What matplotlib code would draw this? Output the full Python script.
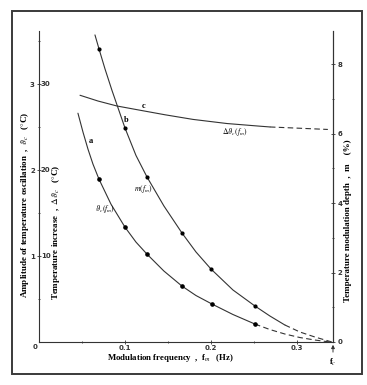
import matplotlib
matplotlib.use("Agg")
import matplotlib.pyplot as plt
from matplotlib.patches import Rectangle
from matplotlib.font_manager import FontProperties

plt.rcParams["mathtext.fontset"] = "stix"
plt.rcParams["font.family"] = ["Liberation Serif", "DejaVu Serif"]

# curve a : amplitude of temperature oscillation (left axis, degC)
a_f = [0.0453, 0.0512, 0.0570, 0.0628, 0.0698, 0.0837, 0.1000, 0.1128, 0.1256,
       0.1453, 0.1663, 0.1826, 0.2012, 0.2256, 0.2512]
a_v = [2.663, 2.442, 2.244, 2.070, 1.895, 1.605, 1.337, 1.163, 1.023,
       0.826, 0.651, 0.541, 0.442, 0.320, 0.209]
a_dash_f = [0.2512, 0.2686, 0.2860, 0.3035, 0.3209, 0.3384]
a_dash_v = [0.209, 0.145, 0.093, 0.052, 0.023, 0.0]
a_dot_f = [0.0698, 0.100, 0.1256, 0.1663, 0.2012, 0.2512]
a_dot_v = [1.895, 1.337, 1.023, 0.651, 0.442, 0.209]

# curve b : modulation depth m (right axis, %)
b_f = [0.0651, 0.0698, 0.0767, 0.0849, 0.1000, 0.1128, 0.1256, 0.1453, 0.1663,
       0.1826, 0.2000, 0.2256, 0.2512, 0.2686, 0.2860]
b_v = [8.847, 8.444, 7.873, 7.248, 6.167, 5.375, 4.755, 3.919, 3.141,
       2.594, 2.104, 1.499, 1.037, 0.749, 0.490]
b_dash_f = [0.2860, 0.3035, 0.3209, 0.3407]
b_dash_v = [0.490, 0.288, 0.144, 0.0]
b_dot_f = [0.0698, 0.1000, 0.1256, 0.1663, 0.2000, 0.2512]
b_dot_v = [8.444, 6.167, 4.755, 3.141, 2.104, 1.037]

# curve c : temperature increase (left axis, x10 scale)
c_f = [0.0477, 0.0686, 0.0907, 0.1174, 0.1465, 0.1791, 0.2186, 0.2570, 0.2686]
c_v = [28.72, 28.05, 27.47, 26.98, 26.45, 25.91, 25.43, 25.12, 25.03]
c_dash_f = [0.2686, 0.3035, 0.3360]
c_dash_v = [25.03, 24.88, 24.74]

x_ticks = [0.1, 0.2, 0.3]
left_ticks = [1, 2, 3]
left_ticks2 = ["10", "20", "30"]
right_ticks = [0, 2, 4, 6, 8]

W, H = 367, 385
fig = plt.figure(figsize=(W / 100, H / 100), dpi=100)
fig.patch.set_facecolor("white")
fig.patches.append(Rectangle((12 / W, 1 - 374 / H), 350 / W, 363 / H, transform=fig.transFigure,
                             fill=False, ec="#3a3a3a", lw=1.4))

ax = fig.add_axes([39 / W, 1 - 342 / H, 294 / W, 311 / H])
ax.set_xlim(0, 0.342)
ax.set_ylim(0, 3.62)
ax2 = ax.twinx()
ax2.set_ylim(0, 8.96)
ax3 = ax.twinx()
ax3.set_ylim(0, 36.2)
ax3.axis("off")

lc = "#333333"
ax.spines["top"].set_visible(False)
ax2.spines["top"].set_visible(False)
ax2.spines["left"].set_visible(False)
ax2.spines["bottom"].set_visible(False)
for sp in ax.spines.values():
    sp.set_linewidth(0.8)
    sp.set_color(lc)
ax2.spines["right"].set_linewidth(0.8)
ax2.spines["right"].set_color(lc)

ax.set_xticks(x_ticks)
ax.set_xticklabels(["0.1", "0.2", "0.3"])
ax.set_xticks([0.05, 0.15, 0.25], minor=True)
ax.set_yticks(left_ticks)
ax.set_yticklabels([str(v) for v in left_ticks])
ax.set_yticks([0.5, 1.5, 2.5, 3.5], minor=True)
ax2.set_yticks(right_ticks)
ax2.set_yticklabels([str(v) for v in right_ticks])
ax2.set_yticks([1, 3, 5, 7], minor=True)
tf = FontProperties(family="DejaVu Sans", size=5, weight="bold")
for axx in (ax, ax2):
    axx.tick_params(which="major", direction="inout", length=3, width=0.6, pad=1.5, colors=lc)
    axx.tick_params(which="minor", direction="inout", length=2, width=0.6, colors=lc)
    for lab in axx.get_xticklabels() + axx.get_yticklabels():
        lab.set_fontproperties(tf)
ax.tick_params(axis="x", which="major", pad=0.3)

for v, t in zip(left_ticks, left_ticks2):
    ax3.text(0.002, v * 10, t, ha="left", va="center", fontproperties=tf, color=lc)
fig.text(35 / W, 1 - 347 / H, "0", ha="center", va="center", fontproperties=tf, color=lc)

# curves
kw = dict(color=lc, lw=0.8, solid_joinstyle="round", solid_capstyle="round")
ax.plot(a_f, a_v, **kw)
ax.plot(a_dash_f, a_dash_v, color=lc, lw=0.8, ls=(0, (5, 3)))
ax.plot(a_dot_f, a_dot_v, "o", color="black", ms=2.3)
ax2.plot(b_f, b_v, **kw)
ax2.plot(b_dash_f, b_dash_v, color=lc, lw=0.8, ls=(0, (5, 3)))
ax2.plot(b_dot_f, b_dot_v, "o", color="black", ms=2.0)
ax3.plot(c_f, c_v, **kw)
ax3.plot(c_dash_f, c_dash_v, color=lc, lw=0.8, ls=(0, (5, 3)))

# curve labels
ax.text(0.0605, 2.34, "a", fontsize=6, fontweight="bold", ha="center", va="center")
ax2.text(0.101, 6.40, "b", fontsize=6, fontweight="bold", ha="center", va="center")
ax3.text(0.122, 27.5, "c", fontsize=6, fontweight="bold", ha="center", va="center")
ax3.text(0.228, 24.5, r"$\Delta\vartheta_c(f_m)$", fontsize=5.5, ha="center", va="center")
ax2.text(0.121, 4.41, r"$m(f_m)$", fontsize=5.5, ha="center", va="center")
ax.text(0.077, 1.55, r"$\vartheta_c(f_m)$", fontsize=5.5, ha="center", va="center")

# axis titles
fig.text(170 / W, 1 - 358 / H, r"Modulation frequency  ,  f$_m$   (Hz)", ha="center", va="center",
         fontsize=6.3, fontweight="bold")
fig.text(25 / W, 1 - 205 / H, r"Amplitude of temperature oscillation  ,  $\vartheta_c$   ($\degree$C)",
         rotation=90, ha="center", va="center", fontsize=6.5, fontweight="bold")
fig.text(56 / W, 1 - 232 / H, r"Temperature increase  ,  $\Delta\vartheta_c$   ($\degree$C)",
         rotation=90, ha="center", va="center", fontsize=6.5, fontweight="bold")
fig.text(348 / W, 1 - 221 / H, "Temperature modulation depth  ,  m    (%)",
         rotation=90, ha="center", va="center", fontsize=6.5, fontweight="bold")

# f_c marker
ax.annotate("", xy=(0.342, 0), xycoords="data", xytext=(0.342, -0.15),
            arrowprops=dict(arrowstyle="-|>", color=lc, lw=0.7, mutation_scale=5))
ax.text(0.342, -0.24, r"f$_c$", ha="center", va="center", fontsize=6, fontweight="bold",
        clip_on=False)

fig.savefig("out.png", dpi=100)
